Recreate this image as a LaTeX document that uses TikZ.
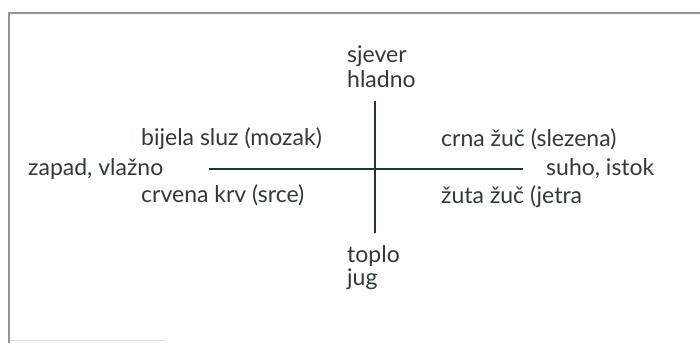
\documentclass[tikz,border=0pt]{standalone}
\usepackage{fontspec}
\setmainfont{Lato}
\usepackage{xcolor}
\definecolor{ink}{RGB}{48,58,55}
\definecolor{axisgreen}{RGB}{28,58,48}
\tikzset{
    axis-line/.style = {draw=axisgreen, line width=2.8pt},
    frame-line/.style = {draw=gray!85, line width=1.5pt},
    quad-label/.style = {text=ink, font=\fontsize{23}{25}\selectfont, inner sep=0pt, anchor=base west},
}

\begin{document}
\begin{tikzpicture}[x=1pt,y=-1pt]
\useasboundingbox (0,0) rectangle (700,343);
\draw[frame-line] (9,343) -- (9,13) -- (700,13);
\draw[draw=gray!25, line width=1pt] (10,340) -- (165,340);
% the cross
\coordinate (west-end) at (209,169);
\coordinate (east-end) at (523,169);
\coordinate (north-end) at (375,101);
\coordinate (south-end) at (375,233);
\draw[axis-line] (west-end) -- (east-end);
\draw[axis-line] (north-end) -- (south-end);
% labels
\node[quad-label] (north1) at (347,62) {sjever};
\node[quad-label] (north2) at (347,87) {hladno};
\node[quad-label] (south1) at (347,262) {toplo};
\node[quad-label] (south2) at (347,285) {jug};
\node[quad-label] (west) at (28,175) {zapad, vlažno};
\node[quad-label] (east) at (546,175) {suho, istok};
\node[quad-label] (nw) at (141,145) {bijela sluz (mozak)};
\node[quad-label] (sw) at (141,202) {crvena krv (srce)};
\node[quad-label] (ne) at (441,146) {crna žuč (slezena)};
\node[quad-label] (se) at (441,203) {žuta žuč (jetra};
\end{tikzpicture}
\end{document}
